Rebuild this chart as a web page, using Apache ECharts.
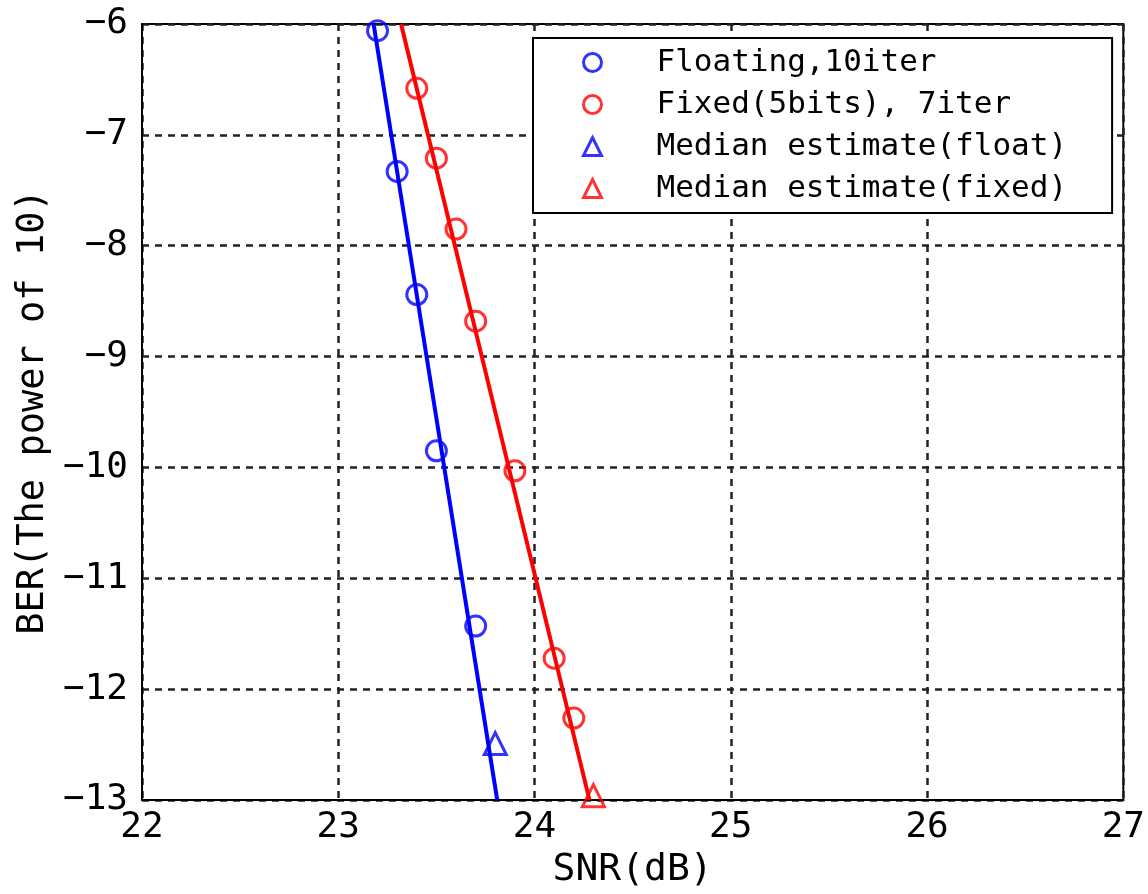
<!DOCTYPE html>
<html>
<head>
<meta charset="utf-8">
<script src="https://cdn.jsdelivr.net/npm/echarts@6/dist/echarts.min.js"></script>
<style>html,body{margin:0;padding:0;background:#fff;}#c{width:1148px;height:894px;}</style>
</head>
<body>
<div id="c"></div>
<script>
// Data
const xTicks = [22, 23, 24, 25, 26, 27];
const yTicks = [-13, -12, -11, -10, -9, -8, -7, -6];
const floatSNR = [23.2, 23.3, 23.4, 23.5, 23.7];
const floatBER = [-6.06, -7.33, -8.44, -9.85, -11.43];
const fixedSNR = [23.4, 23.5, 23.6, 23.7, 23.9, 24.1, 24.2];
const fixedBER = [-6.58, -7.21, -7.85, -8.68, -10.03, -11.72, -12.26];
const medFloatSNR = [23.8];
const medFloatBER = [-12.49];
const medFixedSNR = [24.3];
const medFixedBER = [-12.96];
// fitted straight lines (endpoints where they meet the plot frame)
const floatFitSNR = [23.18, 23.81];
const floatFitBER = [-6, -13];
const fixedFitSNR = [23.32, 24.28];
const fixedFitBER = [-6, -13];
const names = ['Floating,10iter', 'Fixed(5bits), 7iter', 'Median estimate(float)', 'Median estimate(fixed)'];

const zip = (a, b) => a.map((v, i) => [v, b[i]]);
const mono = "'DejaVu Sans Mono', monospace";
const fmt = v => String(v).replace('-', '\u2212');

const chart = echarts.init(document.getElementById('c'), null, {renderer: 'canvas'});
const blue = '#0000ff', red = '#ff0000';
function scatter(name, data, color, symbol, size) {
  return {
    name, type: 'scatter', data, symbol, symbolSize: size, z: 5,
    itemStyle: {color: 'transparent', borderColor: color, borderWidth: 3},
    emphasis: {disabled: true}
  };
}
chart.setOption({
  animation: false,
  backgroundColor: '#fff',
  grid: {left: 142, right: 18, top: 24, bottom: 92, show: true, borderColor: '#000', borderWidth: 2, backgroundColor: 'transparent'},
  xAxis: {
    type: 'value', min: 22, max: 27, interval: 1,
    name: 'SNR(dB)', nameLocation: 'middle', nameGap: 50,
    nameTextStyle: {fontFamily: mono, fontSize: 38, color: '#000'},
    axisLine: {show: true, onZero: false, lineStyle: {color: '#000', width: 2}},
    axisTick: {show: false},
    axisLabel: {fontFamily: mono, fontSize: 36, color: '#000', margin: 10, formatter: fmt},
    splitLine: {show: true, lineStyle: {color: '#222', width: 2.5, type: [7, 6]}}
  },
  yAxis: {
    type: 'value', min: -13, max: -6, interval: 1,
    name: 'BER(The power of 10)', nameLocation: 'middle', nameGap: 90,
    nameTextStyle: {fontFamily: mono, fontSize: 37, color: '#000'},
    axisLine: {show: true, onZero: false, lineStyle: {color: '#000', width: 2}},
    axisTick: {show: false},
    axisLabel: {fontFamily: mono, fontSize: 36, color: '#000', margin: 14, formatter: fmt},
    splitLine: {show: true, lineStyle: {color: '#222', width: 2.5, type: [7, 6]}}
  },
  legend: {
    orient: 'vertical', left: 533, top: 38,
    data: names,
    padding: [9, 45, 9, 49], itemGap: 11, itemWidth: 18, itemHeight: 18,
    backgroundColor: '#fff', borderColor: '#000', borderWidth: 2,
    itemStyle: {borderWidth: 3},
    textStyle: {fontFamily: mono, fontSize: 31, color: '#000', padding: [0, 0, 0, 50]},
    selectedMode: false
  },
  series: [
    {type: 'line', data: zip(floatFitSNR, floatFitBER), symbol: 'none', lineStyle: {color: blue, width: 4}, z: 3},
    {type: 'line', data: zip(fixedFitSNR, fixedFitBER), symbol: 'none', lineStyle: {color: red, width: 4}, z: 3},
    scatter(names[0], zip(floatSNR, floatBER), blue, 'circle', 20),
    scatter(names[1], zip(fixedSNR, fixedBER), red, 'circle', 20),
    scatter(names[2], zip(medFloatSNR, medFloatBER), blue, 'triangle', 22),
    scatter(names[3], zip(medFixedSNR, medFixedBER), red, 'triangle', 22)
  ]
});
</script>
</body>
</html>
